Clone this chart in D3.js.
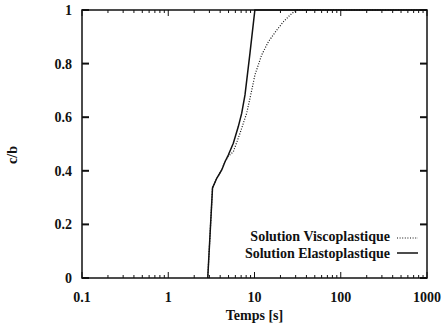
<!DOCTYPE html>
<html>
<head>
<meta charset="utf-8">
<script src="https://cdn.jsdelivr.net/npm/d3@7.9.0/dist/d3.min.js"></script>
<style>
  body { margin: 0; background: #fff; }
  svg text { font-family: "Liberation Serif", "Times New Roman", serif; font-weight: bold; fill: #111; }
</style>
</head>
<body>
<svg id="chart" width="443" height="332"></svg>
<script>
// time (s) and c/b
const elastoT = [2.87, 3.26, 3.65, 4.17, 4.55, 4.97, 5.68, 6.49, 7.11, 7.76, 8.87, 10.1, 1000];
const elastoY = [0, 0.336, 0.372, 0.403, 0.434, 0.459, 0.503, 0.565, 0.615, 0.683, 0.84, 1, 1];

const viscoT = [2.87, 3.26, 3.65, 4.17, 4.55, 5.0, 5.68, 6.79, 8.12, 9.28, 10.1, 12.1, 14.5, 18.1, 21.6, 25.8, 30.3, 1000];
const viscoY = [0, 0.336, 0.372, 0.403, 0.434, 0.455, 0.471, 0.54, 0.615, 0.70, 0.757, 0.832, 0.882, 0.925, 0.956, 0.981, 1, 1];

const xTicks = [0.1, 1, 10, 100, 1000];
const xTickLabels = ["0.1", "1", "10", "100", "1000"];
const yTicks = [0, 0.2, 0.4, 0.6, 0.8, 1];
const yTickLabels = ["0", "0.2", "0.4", "0.6", "0.8", "1"];

const legendNames = ["Solution Viscoplastique", "Solution Elastoplastique"];

(function () {
  const svg = d3.select("#chart");
  const pLeft = 82, pRight = 427, pTop = 10, pBottom = 278;

  const x = d3.scaleLog().domain([0.1, 1000]).range([pLeft, pRight]);
  const y = d3.scaleLinear().domain([0, 1]).range([pBottom, pTop]);

  // minor ticks on log axis
  let minor = [];
  for (let dec = 0.1; dec < 1000; dec *= 10) {
    for (let k = 2; k <= 9; k++) minor.push(dec * k);
  }

  const g = svg.append("g").attr("stroke", "#111").attr("fill", "none");

  // minor x ticks, bottom and top
  g.selectAll(".mb").data(minor).enter().append("line")
    .attr("x1", d => x(d)).attr("x2", d => x(d))
    .attr("y1", pBottom).attr("y2", pBottom - 3).attr("stroke-width", 1);
  g.selectAll(".mt").data(minor).enter().append("line")
    .attr("x1", d => x(d)).attr("x2", d => x(d))
    .attr("y1", pTop).attr("y2", pTop + 3).attr("stroke-width", 1);

  // major x ticks
  g.selectAll(".xb").data(xTicks).enter().append("line")
    .attr("x1", d => x(d)).attr("x2", d => x(d))
    .attr("y1", pBottom).attr("y2", pBottom - 6).attr("stroke-width", 1);
  g.selectAll(".xt").data(xTicks).enter().append("line")
    .attr("x1", d => x(d)).attr("x2", d => x(d))
    .attr("y1", pTop).attr("y2", pTop + 6).attr("stroke-width", 1);

  // major y ticks left and right
  g.selectAll(".yl").data(yTicks).enter().append("line")
    .attr("x1", pLeft).attr("x2", pLeft + 7)
    .attr("y1", d => y(d)).attr("y2", d => y(d)).attr("stroke-width", 2);
  g.selectAll(".yr").data(yTicks).enter().append("line")
    .attr("x1", pRight).attr("x2", pRight - 7)
    .attr("y1", d => y(d)).attr("y2", d => y(d)).attr("stroke-width", 2);

  // frame
  g.append("rect")
    .attr("x", pLeft).attr("y", pTop)
    .attr("width", pRight - pLeft).attr("height", pBottom - pTop)
    .attr("stroke-width", 1.5);

  // tick labels
  svg.selectAll(".xl").data(xTicks).enter().append("text")
    .attr("x", d => x(d)).attr("y", 302)
    .attr("text-anchor", "middle").attr("font-size", 14)
    .text((d, i) => xTickLabels[i]);

  svg.selectAll(".ylab").data(yTicks).enter().append("text")
    .attr("x", 72).attr("y", d => y(d) + 5)
    .attr("text-anchor", "end").attr("font-size", 14)
    .text((d, i) => yTickLabels[i]);

  // axis titles
  svg.append("text")
    .attr("x", x(10)).attr("y", 320)
    .attr("text-anchor", "middle").attr("font-size", 14)
    .text("Temps [s]");

  svg.append("text")
    .attr("transform", "translate(17,155) rotate(-90)")
    .attr("text-anchor", "middle").attr("font-size", 14)
    .text("c/b");

  // curves
  const line = d3.line().x(d => x(d[0])).y(d => y(d[1]));

  svg.append("path")
    .datum(viscoT.map((t, i) => [t, viscoY[i]]))
    .attr("d", line)
    .attr("fill", "none").attr("stroke", "#111")
    .attr("stroke-width", 1.2).attr("stroke-dasharray", "1,1.6");

  svg.append("path")
    .datum(elastoT.map((t, i) => [t, elastoY[i]]))
    .attr("d", line)
    .attr("fill", "none").attr("stroke", "#111")
    .attr("stroke-width", 1.5);

  // legend
  const legY = [236, 253];
  svg.selectAll(".lg").data(legendNames).enter().append("text")
    .attr("x", 390).attr("y", (d, i) => legY[i] + 5)
    .attr("text-anchor", "end").attr("font-size", 14)
    .text(d => d);

  svg.append("line")
    .attr("x1", 397).attr("x2", 418).attr("y1", legY[0] + 2).attr("y2", legY[0] + 2)
    .attr("stroke", "#111").attr("stroke-width", 1.2).attr("stroke-dasharray", "1,1.6");
  svg.append("line")
    .attr("x1", 397).attr("x2", 418).attr("y1", legY[1]).attr("y2", legY[1])
    .attr("stroke", "#111").attr("stroke-width", 1.5);
})();
</script>
</body>
</html>
